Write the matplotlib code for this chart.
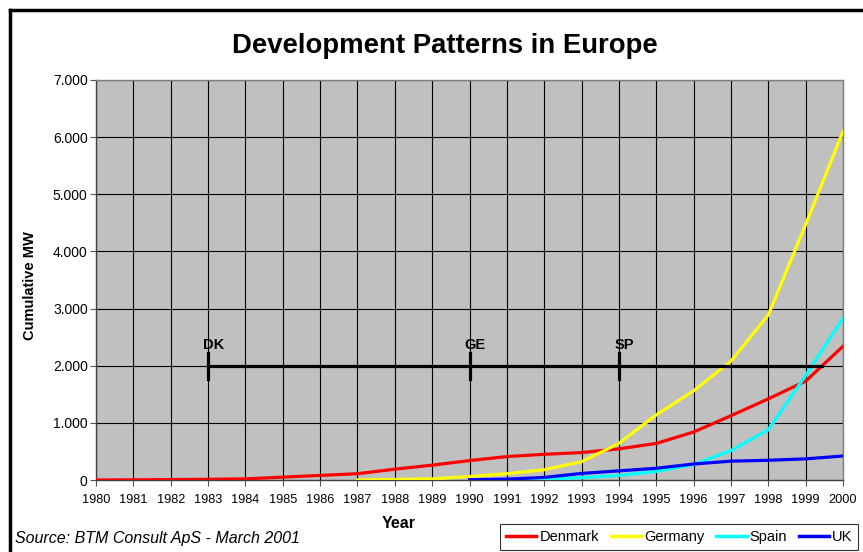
import matplotlib
matplotlib.use("Agg")
import matplotlib.pyplot as plt
from matplotlib.lines import Line2D
from matplotlib.ticker import FuncFormatter

plt.rcParams['font.family'] = ['Liberation Sans', 'DejaVu Sans']

years = list(range(1980, 2001))
denmark = [0, 3, 7, 12, 20, 50, 80, 110, 190, 260, 340, 410, 450, 480, 545, 640, 840, 1125, 1420, 1730, 2340]
germany_years = list(range(1987, 2001))
germany = [0, 10, 20, 60, 110, 180, 320, 640, 1140, 1560, 2080, 2890, 4470, 6100]
spain_years = list(range(1990, 2001))
spain = [0, 5, 15, 40, 80, 150, 270, 515, 880, 1830, 2830]
uk_years = list(range(1990, 2001))
uk = [5, 15, 45, 115, 160, 205, 280, 330, 345, 370, 420]

series_names = ["Denmark", "Germany", "Spain", "UK"]
series_colors = ["#FF0000", "#FFFF00", "#00FFFF", "#0000FF"]

marker_level = 2000
marker_start = 1983
marker_end = 1999.45
marker_years = [1983, 1990, 1994]
marker_labels = ["DK", "GE", "SP"]

fig = plt.figure(figsize=(8.63, 5.52), dpi=100)
ax = fig.add_axes([96/863, 1-480/552, (843-96)/863, 400/552])
ax.set_facecolor("#C0C0C0")

for x in years:
    ax.axvline(x, color="black", lw=0.8, zorder=1)
for y in range(1000, 8000, 1000):
    ax.axhline(y, color="black", lw=0.8, zorder=1)

ax.plot(years, denmark, color=series_colors[0], lw=2.3, zorder=3, label=series_names[0])
ax.plot(germany_years, germany, color=series_colors[1], lw=2.3, zorder=3, label=series_names[1])
ax.plot(spain_years, spain, color=series_colors[2], lw=2.3, zorder=3, label=series_names[2])
ax.plot(uk_years, uk, color=series_colors[3], lw=2.3, zorder=3, label=series_names[3])

ax.plot([marker_start, marker_end], [marker_level, marker_level], color="black", lw=2.3, zorder=4)
for xm, lab in zip(marker_years, marker_labels):
    ax.plot([xm, xm], [marker_level - 230, marker_level + 230], color="black", lw=2.3, zorder=4)
    ax.text(xm + 0.15, marker_level + 240, lab, fontsize=10.5, fontweight="bold", ha="center", va="bottom", zorder=5)

ax.set_xlim(1980, 2000)
ax.set_ylim(0, 7000)
ax.set_xticks(years)
ax.set_xticklabels([str(y) for y in years])
ax.set_yticks(range(0, 8000, 1000))
ax.yaxis.set_major_formatter(FuncFormatter(lambda v, p: "0" if v == 0 else f"{int(v):,}".replace(",", ".")))
ax.tick_params(axis="both", length=4, width=0.8, color="#555555", direction="out")
ax.tick_params(axis="x", labelsize=9.2, pad=6)
ax.tick_params(axis="y", labelsize=10, pad=2)
for s in ["top", "right"]:
    ax.spines[s].set_color("#808080")
    ax.spines[s].set_linewidth(1)
for s in ["left", "bottom"]:
    ax.spines[s].set_color("#404040")
    ax.spines[s].set_linewidth(1)

ax.set_xlabel("Year", fontsize=11.5, fontweight="bold")
ax.xaxis.set_label_coords((399-96)/(843-96), -(523-480)/400)
ax.xaxis.label.set_va("center")
ax.set_ylabel("Cumulative MW", fontsize=10.5, fontweight="bold")
ax.yaxis.set_label_coords(-(96-30)/(843-96), 0.5 - 6/400)
ax.yaxis.label.set_va("center")

fig.text(445/863, 1-46/552, "Development Patterns in Europe", fontsize=19.8, fontweight="bold", ha="center", va="center")
fig.text(15/863, 1-539/552, "Source: BTM Consult ApS - March 2001", fontsize=11.5, style="italic", ha="left", va="center")

# outer chart border
fig.add_artist(Line2D([10/863, 10/863], [0, 1-10/552], color="black", lw=2.5, transform=fig.transFigure))
fig.add_artist(Line2D([10/863, 1], [1-10/552, 1-10/552], color="black", lw=2.5, transform=fig.transFigure))

leg = fig.legend(loc="upper left", bbox_to_anchor=(500/863, 1-524/552), ncol=4, fontsize=10.5,
                 frameon=True, fancybox=False, edgecolor="black", handlelength=2.1, handletextpad=0.2,
                 columnspacing=0.8, borderpad=0.4, borderaxespad=0)
leg.get_frame().set_linewidth(0.8)
for h in leg.get_lines():
    h.set_linewidth(2.5)

fig.savefig("out.png", dpi=100)
